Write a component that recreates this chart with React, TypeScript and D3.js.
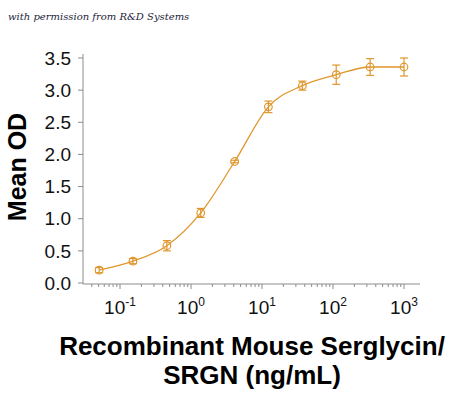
import * as React from 'react';
import * as d3 from 'd3';

// 3-fold dilution series, ng/mL
const concentrations = [0.0508, 0.152, 0.457, 1.37, 4.12, 12.3, 37.0, 111, 333, 1000];
const meanOD = [0.2, 0.34, 0.58, 1.09, 1.89, 2.74, 3.07, 3.24, 3.36, 3.36];
const errorOD = [0.04, 0.04, 0.08, 0.07, 0.02, 0.09, 0.07, 0.15, 0.13, 0.14];

const yTicks = [0, 0.5, 1.0, 1.5, 2.0, 2.5, 3.0, 3.5];
const decadeExponents = [-1, 0, 1, 2, 3];

const width = 450;
const height = 393;
const orange = '#E0962D';
const axisGrey = '#8c8c8c';

const x = d3.scaleLog().domain([0.0301, 1680]).range([83, 420]);
const y = d3.scaleLinear().domain([0, 3.5]).range([283, 58]);

const minorTicks: number[] = [];
for (let e = -2; e <= 2; e++) {
  for (let m = 2; m <= 9; m++) {
    const v = m * Math.pow(10, e);
    if (v >= 0.04 && v < 1000) minorTicks.push(v);
  }
}

const App: React.FC = () => {
  const points = concentrations.map((c, i) => ({ c, od: meanOD[i], err: errorOD[i] }));

  const line = d3
    .line<{ c: number; od: number }>()
    .x((d) => x(d.c))
    .y((d) => y(d.od))
    .curve(d3.curveMonotoneX);

  const baseY = 284;

  return (
    <svg
      width={width}
      height={height}
      style={{ position: 'absolute', left: 0, top: 0, background: '#fff' }}
      fontFamily="'Liberation Sans', Arial, sans-serif"
    >
      {/* watermark */}
      <text
        x={8}
        y={20}
        fontFamily="'DejaVu Serif', serif"
        fontStyle="italic"
        fontSize={10}
        fill="#1b1b3a"
      >
        with permission from R&amp;D Systems
      </text>

      {/* y axis */}
      <line x1={83} x2={83} y1={54} y2={baseY} stroke={axisGrey} strokeWidth={1} />
      {yTicks.map((t) => (
        <g key={t}>
          <line x1={78} x2={83} y1={y(t)} y2={y(t)} stroke={axisGrey} />
          <text x={71} y={y(t)} dy="0.35em" textAnchor="end" fontSize={19} fill="#111">
            {t.toFixed(1)}
          </text>
        </g>
      ))}
      <text
        transform={`translate(26, 167) rotate(-90)`}
        textAnchor="middle"
        fontSize={25}
        fontWeight="bold"
        fill="#000"
      >
        Mean OD
      </text>

      {/* x axis */}
      <line x1={83} x2={420} y1={baseY} y2={baseY} stroke={axisGrey} strokeWidth={1} />
      {minorTicks.map((t) => (
        <line key={t} x1={x(t)} x2={x(t)} y1={baseY} y2={baseY + 3} stroke={axisGrey} />
      ))}
      {decadeExponents.map((e) => {
        const px = x(Math.pow(10, e));
        return (
          <g key={e}>
            <line x1={px} x2={px} y1={baseY} y2={baseY + 5} stroke={axisGrey} />
            <text x={px} y={314} textAnchor="middle" fontSize={19} fill="#111">
              10
              <tspan fontSize={12} dy={-8}>
                {e}
              </tspan>
            </text>
          </g>
        );
      })}
      <text x={252} y={355} textAnchor="middle" fontSize={26} fontWeight="bold" fill="#000">
        Recombinant Mouse Serglycin/
      </text>
      <text x={252} y={384} textAnchor="middle" fontSize={26} fontWeight="bold" fill="#000">
        SRGN (ng/mL)
      </text>

      {/* fitted curve */}
      <path d={line(points) || ''} fill="none" stroke={orange} strokeWidth={1.3} />

      {/* points with error bars */}
      {points.map((p, i) => {
        const cx = x(p.c);
        const y0 = y(p.od - p.err);
        const y1 = y(p.od + p.err);
        return (
          <g key={i} stroke={orange} strokeWidth={1.2} fill="none">
            <line x1={cx} x2={cx} y1={y0} y2={y1} />
            <line x1={cx - 4} x2={cx + 4} y1={y0} y2={y0} />
            <line x1={cx - 4} x2={cx + 4} y1={y1} y2={y1} />
            <circle cx={cx} cy={y(p.od)} r={3.8} fill="#fff" fillOpacity={0} />
          </g>
        );
      })}
    </svg>
  );
};

export default App;
